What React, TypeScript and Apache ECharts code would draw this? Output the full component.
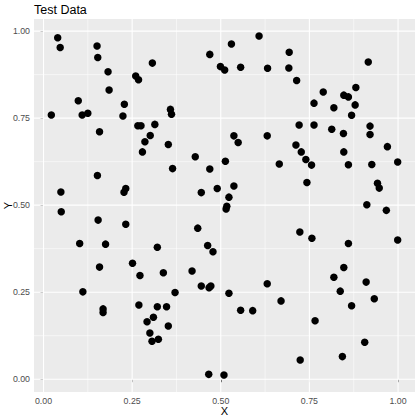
import React, { useEffect, useRef } from "react";
import * as echarts from "echarts";

const xValues: number[] = [
  0.022, 0.040, 0.047, 0.098, 0.109, 0.125, 0.151, 0.153, 0.182, 0.185,
  0.158, 0.228, 0.224, 0.260, 0.268, 0.266, 0.275, 0.307, 0.314, 0.358,
  0.361, 0.301, 0.469, 0.530, 0.499, 0.511, 0.556, 0.608, 0.632, 0.537,
  0.631, 0.693, 0.692, 0.714, 0.916, 0.789, 0.763, 0.819, 0.847, 0.860,
  0.881, 0.879, 0.869, 0.721, 0.763, 0.813, 0.846, 0.921, 0.921, 0.152,
  0.049, 0.232, 0.227, 0.050, 0.154, 0.232, 0.102, 0.175, 0.251, 0.158,
  0.286, 0.279, 0.352, 0.364, 0.428, 0.469, 0.513, 0.549, 0.445, 0.490,
  0.537, 0.523, 0.517, 0.515, 0.435, 0.321, 0.463, 0.478, 0.712, 0.727,
  0.740, 0.756, 0.665, 0.847, 0.970, 0.860, 0.926, 0.999, 0.743, 0.942,
  0.947, 0.912, 0.967, 0.723, 0.757, 0.860, 0.999, 0.847, 0.111, 0.168,
  0.168, 0.272, 0.269, 0.338, 0.419, 0.445, 0.467, 0.472, 0.371, 0.523,
  0.631, 0.321, 0.347, 0.556, 0.590, 0.310, 0.292, 0.352, 0.300, 0.306,
  0.324, 0.466, 0.509, 0.670, 0.819, 0.910, 0.837, 0.933, 0.869, 0.766,
  0.906, 0.724, 0.843,
];

const yValues: number[] = [
  0.759, 0.981, 0.953, 0.800, 0.759, 0.764, 0.957, 0.924, 0.883, 0.831,
  0.711, 0.790, 0.756, 0.871, 0.860, 0.728, 0.728, 0.908, 0.732, 0.775,
  0.761, 0.700, 0.933, 0.963, 0.898, 0.888, 0.896, 0.986, 0.893, 0.699,
  0.699, 0.939, 0.894, 0.858, 0.911, 0.825, 0.793, 0.780, 0.816, 0.811,
  0.838, 0.788, 0.758, 0.730, 0.730, 0.718, 0.706, 0.727, 0.703, 0.585,
  0.538, 0.548, 0.537, 0.481, 0.457, 0.445, 0.390, 0.388, 0.333, 0.322,
  0.682, 0.653, 0.674, 0.605, 0.639, 0.604, 0.626, 0.680, 0.536, 0.548,
  0.555, 0.523, 0.497, 0.489, 0.434, 0.379, 0.384, 0.366, 0.673, 0.653,
  0.631, 0.615, 0.618, 0.653, 0.668, 0.616, 0.617, 0.624, 0.565, 0.563,
  0.549, 0.501, 0.485, 0.423, 0.405, 0.390, 0.400, 0.321, 0.251, 0.202,
  0.192, 0.298, 0.213, 0.306, 0.311, 0.268, 0.263, 0.268, 0.249, 0.247,
  0.274, 0.208, 0.208, 0.198, 0.197, 0.178, 0.165, 0.153, 0.133, 0.109,
  0.115, 0.014, 0.012, 0.225, 0.293, 0.279, 0.253, 0.231, 0.211, 0.168,
  0.106, 0.055, 0.065,
];

const majorBreaks: number[] = [0, 0.25, 0.5, 0.75, 1];
const minorBreaks: number[] = [0.125, 0.375, 0.625, 0.875];

const title = "Test Data";
const xName = "X";
const yName = "Y";

const FONT = "Liberation Sans, Arial, sans-serif";

export default function App() {
  const ref = useRef<HTMLDivElement>(null);

  useEffect(() => {
    if (!ref.current) return;
    const chart = echarts.init(ref.current, undefined, { renderer: "svg" });

    const xMinD = Math.min(...xValues);
    const xMaxD = Math.max(...xValues);
    const yMinD = Math.min(...yValues);
    const yMaxD = Math.max(...yValues);
    const xr = xMaxD - xMinD;
    const yr = yMaxD - yMinD;
    const xLo = xMinD - 0.05 * xr;
    const xHi = xMaxD + 0.05 * xr;
    const yLo = yMinD - 0.05 * yr;
    const yHi = yMaxD + 0.05 * yr;

    const points = xValues.map((x, i) => [x, yValues[i]]);

    const gridSeries: any[] = [];
    const addGrid = (v: number, vertical: boolean, major: boolean) => {
      gridSeries.push({
        type: "line",
        silent: true,
        z: 1,
        symbol: "none",
        data: vertical
          ? [
              [v, yLo],
              [v, yHi],
            ]
          : [
              [xLo, v],
              [xHi, v],
            ],
        lineStyle: { color: "#ffffff", width: major ? 1.1 : 0.55, type: "solid" },
      });
    };
    minorBreaks.forEach((v) => addGrid(v, true, false));
    minorBreaks.forEach((v) => addGrid(v, false, false));
    majorBreaks.forEach((v) => addGrid(v, true, true));
    majorBreaks.forEach((v) => addGrid(v, false, true));

    const axisLabelStyle = {
      color: "#4D4D4D",
      fontSize: 8.8,
      fontFamily: FONT,
      formatter: (v: number) => v.toFixed(2),
      customValues: majorBreaks,
    };

    chart.setOption({
      animation: false,
      backgroundColor: "#ffffff",
      title: {
        text: title,
        left: 34,
        top: 3,
        padding: 0,
        textStyle: {
          fontSize: 12.5,
          fontWeight: "normal",
          color: "#000000",
          fontFamily: FONT,
        },
      },
      grid: {
        left: 34,
        right: 5,
        top: 19,
        bottom: 28,
        show: true,
        backgroundColor: "#EBEBEB",
        borderWidth: 0,
        containLabel: false,
        outerBoundsMode: "none",
      },
      xAxis: {
        type: "value",
        min: xLo,
        max: xHi,
        name: xName,
        nameLocation: "middle",
        nameGap: 13,
        nameMoveOverlap: false,
        nameTextStyle: { fontSize: 11, color: "#000000", fontFamily: FONT },
        axisLine: { show: false },
        axisTick: {
          show: true,
          length: 3,
          lineStyle: { color: "#333333", width: 1 },
          customValues: majorBreaks,
        },
        axisLabel: { ...axisLabelStyle, margin: 4.5 },
        splitLine: { show: false },
      },
      yAxis: {
        type: "value",
        min: yLo,
        max: yHi,
        name: yName,
        nameLocation: "middle",
        nameRotate: 90,
        nameGap: 21,
        nameMoveOverlap: false,
        nameTextStyle: { fontSize: 11, color: "#000000", fontFamily: FONT },
        axisLine: { show: false },
        axisTick: {
          show: true,
          length: 3,
          lineStyle: { color: "#333333", width: 1 },
          customValues: majorBreaks,
        },
        axisLabel: { ...axisLabelStyle, margin: 4 },
        splitLine: { show: false },
      },
      series: [
        ...gridSeries,
        {
          type: "scatter",
          z: 3,
          data: points,
          symbol: "circle",
          symbolSize: 7.5,
          itemStyle: { color: "#000000", borderWidth: 0, opacity: 1 },
        },
      ],
    });

    return () => {
      chart.dispose();
    };
  }, []);

  return (
    <div
      ref={ref}
      style={{ position: "fixed", left: 0, top: 0, width: 420, height: 420 }}
    />
  );
}
